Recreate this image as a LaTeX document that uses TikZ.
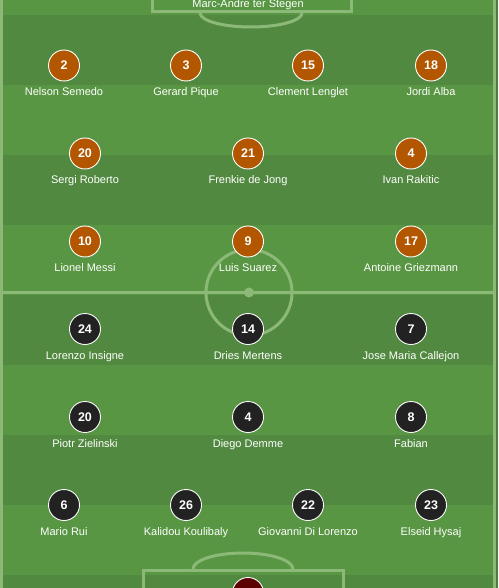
\documentclass[tikz,border=0pt]{standalone}
\usepackage{fontspec}
\setmainfont{Liberation Sans}
\usepackage{tikz}
\usetikzlibrary{positioning}

\definecolor{grasslight}{HTML}{589643}
\definecolor{grassdark}{HTML}{528940}
\definecolor{pitchline}{HTML}{8CB978}
\definecolor{outside}{HTML}{4B7E3B}
\definecolor{barca}{HTML}{B35600}
\definecolor{napoli}{HTML}{222222}
\definecolor{keeper}{HTML}{5C0000}

\begin{document}
\begin{tikzpicture}[
	x=1pt, y=-1pt,
	every node/.style={text=white},
	player/.style={circle, draw=white, line width=0.9pt, minimum size=31pt, inner sep=0pt, font=\fontsize{12.5}{14}\selectfont\bfseries},
	pname/.style={inner sep=1pt, font=\fontsize{11}{13}\selectfont},
	mark line/.style={draw=pitchline, line width=3pt}
	]
	
	\useasboundingbox (0,0) rectangle (498,588);
	\clip (0,0) rectangle (498,588);
	
	% Pitch
	\fill[grasslight] (0,0) rectangle (498,588);
	\fill[grassdark] (0,15) rectangle (498,85);
	\fill[grassdark] (0,155) rectangle (498,225);
	\fill[grassdark] (0,295) rectangle (498,365);
	\fill[grassdark] (0,435) rectangle (498,505);
	\fill[grassdark] (0,575) rectangle (498,588);
	\fill[outside] (495.5,0) rectangle (498,588);
	
	% Lines
	\draw[mark line] (1.5,-10) -- (1.5,600);
	\draw[mark line] (494,-10) -- (494,600);
	\draw[mark line] (0,292.5) -- (495,292.5);
	\draw[mark line] (249,292.5) circle[radius=43];
	\fill[pitchline] (249,292.5) circle[radius=5];
	\draw[mark line] (152,-10) -- (152,11.5) -- (351,11.5) -- (351,-10);
	\draw[mark line] (200,13) arc[start angle=180, end angle=360, x radius=51, y radius=-14];
	\draw[mark line] (143.5,600) -- (143.5,570.5) -- (343,570.5) -- (343,600);
	\draw[mark line] (193,569) arc[start angle=180, end angle=0, x radius=50, y radius=-16];
	
	% Barcelona
	\node[pname] (terstegen) at (248,4.5) {Marc-Andre ter Stegen};
	
	\node[player, fill=barca] (semedo) at (64,65.5) {2};
	\node[player, fill=barca] (pique) at (186,65.5) {3};
	\node[player, fill=barca] (lenglet) at (308,65.5) {15};
	\node[player, fill=barca] (alba) at (431,65.5) {18};
	
	\node[player, fill=barca] (roberto) at (85,153.5) {20};
	\node[player, fill=barca] (dejong) at (248,153.5) {21};
	\node[player, fill=barca] (rakitic) at (411,153.5) {4};
	
	\node[player, fill=barca] (messi) at (85,241.5) {10};
	\node[player, fill=barca] (suarez) at (248,241.5) {9};
	\node[player, fill=barca] (griezmann) at (411,241.5) {17};
	
	% Napoli
	\node[player, fill=napoli] (insigne) at (85,329) {24};
	\node[player, fill=napoli] (mertens) at (248,329) {14};
	\node[player, fill=napoli] (callejon) at (411,329) {7};
	
	\node[player, fill=napoli] (zielinski) at (85,417) {20};
	\node[player, fill=napoli] (demme) at (248,417) {4};
	\node[player, fill=napoli] (fabian) at (411,417) {8};
	
	\node[player, fill=napoli] (rui) at (64,505) {6};
	\node[player, fill=napoli] (koulibaly) at (186,505) {26};
	\node[player, fill=napoli] (dilorenzo) at (308,505) {22};
	\node[player, fill=napoli] (hysaj) at (431,505) {23};
	
	\node[player, fill=keeper] (ospina) at (248,593) {};
	
	% Names
	\node[pname, below=5pt of semedo] {Nelson Semedo};
	\node[pname, below=5pt of pique] {Gerard Pique};
	\node[pname, below=5pt of lenglet] {Clement Lenglet};
	\node[pname, below=5pt of alba] {Jordi Alba};
	\node[pname, below=5pt of roberto] {Sergi Roberto};
	\node[pname, below=5pt of dejong] {Frenkie de Jong};
	\node[pname, below=5pt of rakitic] {Ivan Rakitic};
	\node[pname, below=5pt of messi] {Lionel Messi};
	\node[pname, below=5pt of suarez] {Luis Suarez};
	\node[pname, below=5pt of griezmann] {Antoine Griezmann};
	
	\node[pname, below=5pt of insigne] {Lorenzo Insigne};
	\node[pname, below=5pt of mertens] {Dries Mertens};
	\node[pname, below=5pt of callejon] {Jose Maria Callejon};
	\node[pname, below=5pt of zielinski] {Piotr Zielinski};
	\node[pname, below=5pt of demme] {Diego Demme};
	\node[pname, below=5pt of fabian] {Fabian};
	\node[pname, below=5pt of rui] {Mario Rui};
	\node[pname, below=5pt of koulibaly] {Kalidou Koulibaly};
	\node[pname, below=5pt of dilorenzo] {Giovanni Di Lorenzo};
	\node[pname, below=5pt of hysaj] {Elseid Hysaj};
\end{tikzpicture}
\end{document}
